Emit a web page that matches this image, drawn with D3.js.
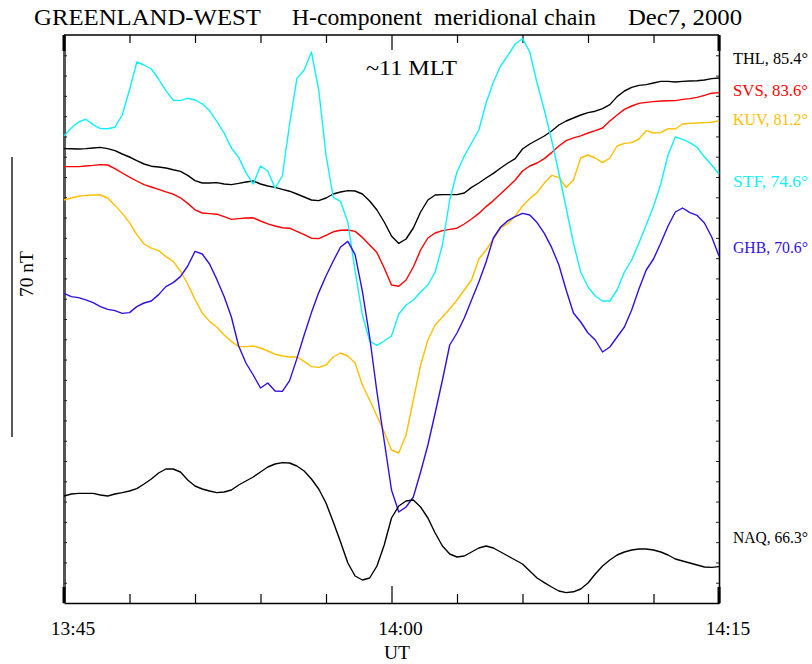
<!DOCTYPE html>
<html>
<head>
<meta charset="utf-8">
<script src="https://cdn.jsdelivr.net/npm/d3@7"></script>
<style>
  html, body { margin: 0; padding: 0; background: #fff; overflow: hidden; }
  svg { display: block; }
  text { font-family: "Liberation Serif", "Times New Roman", serif; }
</style>
</head>
<body>
<svg id="chart" width="812" height="664"></svg>
<script>
// Time grid: 20-second samples from 13:45 to 14:15 UT, minutes after 13:45
const minutes = d3.range(0, 91).map(k => k / 3);

// H-component traces (nT, stacked with station offsets)
const THL = [113.6,113.55,113.5,113.6,113.75,113.9,113.6,113.1,112.25,111.5,110.6,109.75,109.2,109,108.75,108.3,107.9,106.9,105.6,105,105,105.1,104.75,104.6,104.9,105.25,105.5,104.75,104.25,103.9,103.4,102.95,102.25,101.5,100.75,100.6,101.25,102.25,102.75,103.1,103,102.25,100.5,98.25,95.25,91.75,89.9,91,93.75,97.75,100.75,102,102.1,102.1,102.1,102.5,103.9,105,106.25,107.4,108.75,110,111.1,113.5,114.75,115.75,116.75,118,119.5,120.5,121.25,122,122.6,122.95,123.6,124.6,126.6,128,128.9,129.4,129.6,130,130.4,130.4,130.25,130.4,130.5,130.55,130.75,131.1,131.25];
const SVS = [109.1,109.1,109.1,109.25,109.4,109.6,109.5,108.6,107.5,106.45,105.5,104.6,104,103.4,102.8,102.2,101.3,99.9,98.3,97.5,97.35,97.2,96.6,95.9,96.1,96.25,96.3,95.5,94.8,94.25,93.8,93.7,92.9,92.1,91.2,91.1,91.9,92.8,93.2,93.25,92.9,91.4,89.5,87.6,83.75,79.5,79.2,80.75,84,88.25,91.25,92.5,93.1,93.4,93.7,94.75,96,97.4,99.1,100.6,102.3,104,105.75,108,109.25,110,111.1,112.6,114.25,115.6,116.3,116.8,117.5,118.1,118.75,120.5,122,123.4,124.25,124.9,125.15,125.35,125.5,125.55,125.6,125.9,126.1,126.4,126.9,127.45,127.6];
const KUV = [100.75,101.25,101.7,101.9,102,102,101.25,99.4,97.4,95.1,92.1,89.75,88.7,88.1,86.6,85.4,83,79.75,75.9,72.5,70.4,69,67,65.4,64.1,64.1,64.25,63.75,63,62.2,61.75,61.5,61.5,60.4,59.1,58.9,59.5,61.5,62.5,61.75,60,54.5,50.75,46.75,42.75,38.25,37.5,42,50.75,59.5,65.75,69.5,71.5,73.5,75.75,78.25,80.75,86,88.25,91,93.75,94.9,96.75,99.25,101.1,102.6,105,106.9,106.4,103.9,105.75,111.25,112,111.25,110.1,111.25,114.25,114.9,115.1,116,118.1,117.5,117.6,118.6,118.5,119.75,119.9,120,120.1,120.2,120.6];
const STF = [116.75,118.75,120.25,120.95,119.6,118.6,118.55,118.95,122,128.25,135.25,134.5,133.5,131,128.1,125.7,125.6,126.2,125.75,124.8,123.1,120.4,117.5,113.75,111.4,107.6,104.75,109.25,108,103.75,106.75,119.75,131.1,133.25,137.75,128.25,112,101.4,100.4,95.25,83,72,65.5,64.4,65.5,66.75,72.25,74.5,75.75,77.75,79.5,82.75,89.5,100.75,107.75,111.75,115,118.25,125,130.25,134.25,136.9,139.75,141.1,137.75,130,123.25,115.75,107.5,98.75,90,82.75,79,76.75,75.5,75.5,78.25,82.75,85.75,90,94.5,99.1,104.75,112,116.5,115.9,115.1,113.9,111.5,109.5,107.25];
const GHB = [77.4,76.6,76.35,75.8,75.1,74.1,73.4,73.1,72.4,72.6,74.1,75,75.5,77.1,79.1,80.1,81.6,84.25,87.9,87.25,84.75,80.9,76.6,71.5,64.25,60,57,53.75,55,53,52.9,55.6,61.1,67,72.6,77.6,81.75,85.5,89,90.4,87.1,77.9,66.5,52.75,40.5,28.25,22.75,24,26.5,32.75,39.5,47.5,55.75,64.5,67.5,71.25,75.75,80.25,85.25,91.25,94,95.6,96.6,97.4,97,95.1,92.4,88.9,84.5,78.25,72.5,70.25,67.5,65.75,62.75,64,66.5,69,73.25,78.5,83.25,86,90,94.25,97.75,98.75,97.6,96.9,95,91.5,86.75];
const NAQ = [26.75,27.25,27.4,27.4,27.4,27,26.75,27.25,27.6,28,28.6,29.75,31,32.5,33.5,33.5,32.75,30.75,29.25,28.5,28,27.6,27.75,28.25,29.5,30.5,31.5,32.75,34,34.75,35.1,35,34.25,33,31,28.5,25,20.25,15.25,10,6.75,5.75,6.25,9.25,14.5,21.25,24.25,25.5,25.75,24,21.25,17.5,14.25,12.25,11.5,11.75,12.75,13.75,14.25,13.75,12.75,11.75,10.75,9.75,8,6.25,5.1,4,3,2.6,2.8,3.5,5,7.25,9.25,10.75,12,12.75,13.25,13.5,13.5,13.25,12.75,12,11,10.5,10,9.5,9,8.9,9.1];

const stations = ["THL", "SVS", "KUV", "STF", "GHB", "NAQ"];
const latitudes = ["85.4", "83.6", "81.2", "74.6", "70.6", "66.3"];
const seriesValues = [THL, SVS, KUV, STF, GHB, NAQ];
const colors = ["#000000", "#ff0000", "#ffbf00", "#10f0f8", "#2e10e6", "#000000"];
// label baselines, on the same stacked nT scale
const labelLevels = [134.75, 126.75, 119.5, 104.1, 87.5, 15];

const xTickMinutes = [0, 3, 6, 9, 12, 15, 18, 21, 24, 27, 30];
const xTickLabels = [["13:45", 0], ["14:00", 15], ["14:15", 30]];
const scaleBarNT = 70;

const svg = d3.select("#chart");
const m = { left: 64, right: 719, top: 35, bottom: 603 };

const x = d3.scaleLinear().domain([0, 30]).range([m.left, m.right]);
const y = d3.scaleLinear().domain([0, 142]).range([m.bottom, m.top]);

// Title, each phrase fitted to its slot
const titleParts = [
  ["GREENLAND-WEST", 34, 227],
  ["H-component", 292, 130],
  ["meridional chain", 434, 162],
  ["Dec7, 2000", 628, 114]
];
svg.append("g").attr("font-size", 24).selectAll("text").data(titleParts).join("text")
  .attr("x", d => d[1]).attr("y", 25)
  .attr("textLength", d => d[2]).attr("lengthAdjust", "spacingAndGlyphs")
  .text(d => d[0]);

// Frame
svg.append("line").attr("x1", m.left).attr("x2", m.right).attr("y1", m.top).attr("y2", m.top)
  .attr("stroke", "#000").attr("stroke-width", 1.5);

// Bottom and top time axes (ticks point inward)
const bottomAxis = d3.axisBottom(x).tickValues(xTickMinutes).tickFormat("")
  .tickSizeInner(0).tickSizeOuter(0);
const gb = svg.append("g").attr("transform", `translate(0,${m.bottom})`).call(bottomAxis);
gb.select(".domain").attr("stroke", "#000").attr("stroke-width", 1.5);
gb.selectAll(".tick line").attr("y2", d => (d % 15 === 0 ? -17 : -9)).attr("stroke", "#000").attr("stroke-width", 1.2);

const topAxis = d3.axisTop(x).tickValues(xTickMinutes).tickFormat("")
  .tickSizeInner(0).tickSizeOuter(0);
const gt = svg.append("g").attr("transform", `translate(0,${m.top})`).call(topAxis);
gt.select(".domain").remove();
gt.selectAll(".tick line").attr("y2", d => (d % 15 === 0 ? 15 : 8)).attr("stroke", "#000").attr("stroke-width", 1.2);

// Vertical axes: grey left spine, black right spine, small inward minor ticks
const yTicks = d3.range(1, 28).map(i => i * 142 / 28);
const leftAxis = d3.axisLeft(y).tickValues(yTicks).tickFormat("").tickSizeInner(0).tickSizeOuter(0);
const gl = svg.append("g").attr("transform", `translate(${m.left},0)`).call(leftAxis);
gl.select(".domain").attr("stroke", "#555").attr("stroke-width", 3);
gl.selectAll(".tick line").attr("x2", 3).attr("stroke", "#222").attr("stroke-width", 1);

const rightAxis = d3.axisRight(y).tickValues(yTicks).tickFormat("").tickSizeInner(0).tickSizeOuter(0);
const gr = svg.append("g").attr("transform", `translate(${m.right},0)`).call(rightAxis);
gr.select(".domain").attr("stroke", "#000").attr("stroke-width", 1.6);
gr.selectAll(".tick line").attr("x2", -3).attr("stroke", "#222").attr("stroke-width", 1);

// major end ticks on both spines
[m.left, m.right].forEach(px => {
  svg.append("line").attr("x1", px).attr("x2", px).attr("y1", m.top).attr("y2", m.top + 16)
    .attr("stroke", "#000").attr("stroke-width", 3);
  svg.append("line").attr("x1", px).attr("x2", px).attr("y1", m.bottom - 16).attr("y2", m.bottom)
    .attr("stroke", "#000").attr("stroke-width", 3);
});

// Tick labels
svg.append("g").attr("font-size", 19.5).selectAll("text").data(xTickLabels).join("text")
  .attr("x", d => x(d[1]) + 9).attr("y", 635).attr("text-anchor", "middle").text(d => d[0]);
svg.append("text").attr("x", 397).attr("y", 659).attr("font-size", 19.5).attr("text-anchor", "middle").text("UT");

// Traces
const line = d3.line().x((d, i) => x(minutes[i])).y(d => y(d));
const traces = svg.append("g").attr("fill", "none").attr("stroke-width", 1.4).attr("stroke-linejoin", "round");
seriesValues.forEach((vals, i) => {
  traces.append("path").datum(vals).attr("d", line).attr("stroke", colors[i]);
});

// Station labels
svg.append("g").attr("font-size", 16).selectAll("text").data(stations).join("text")
  .attr("x", 733).attr("y", (d, i) => y(labelLevels[i]))
  .attr("fill", (d, i) => colors[i])
  .attr("textLength", 75).attr("lengthAdjust", "spacingAndGlyphs")
  .text((d, i) => `${d}, ${latitudes[i]}°`);

// MLT note
svg.append("text").attr("x", 366).attr("y", 75).attr("font-size", 22)
  .attr("textLength", 91).attr("lengthAdjust", "spacingAndGlyphs").text("~11 MLT");

// 70 nT scale bar
const barTop = 157;
svg.append("line").attr("x1", 12).attr("x2", 12)
  .attr("y1", barTop).attr("y2", barTop + (y(0) - y(scaleBarNT)))
  .attr("stroke", "#000").attr("stroke-width", 1.3);
svg.append("text").attr("transform", "translate(33,274) rotate(-90)")
  .attr("font-size", 19.5).attr("text-anchor", "middle").text(`${scaleBarNT} nT`);
</script>
</body>
</html>
